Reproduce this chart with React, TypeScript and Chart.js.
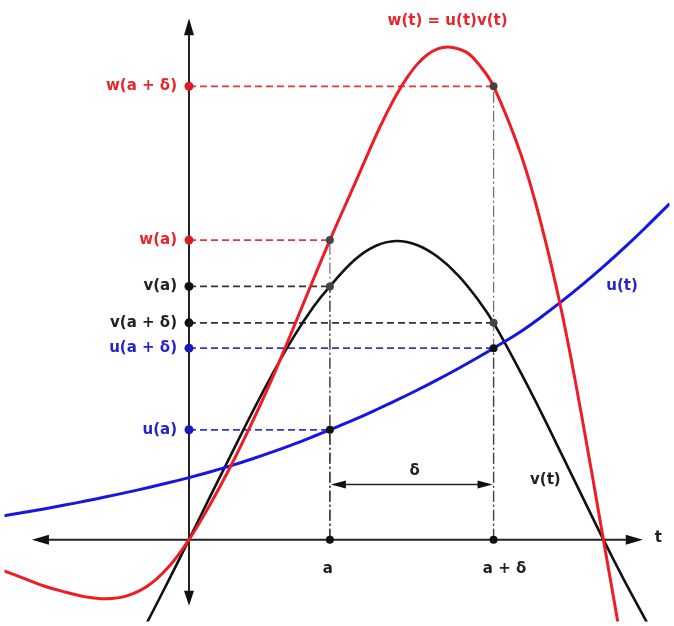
import React, { useEffect, useRef } from "react";
import { Chart, registerables } from "chart.js";

Chart.register(...registerables);

// Sample points of u(t)
const uT = [-4.5, -4, -3.5, -3, -2.5, -2, -1.5, -1, -0.5, 0, 0.5, 1, 1.5, 2, 2.5, 3, 3.4, 4, 4.5, 5, 5.5, 6, 6.5, 7, 7.35, 8, 8.5, 9, 9.5, 10, 10.5, 11, 11.6];
const uValues = [0.24, 0.275, 0.312, 0.351, 0.392, 0.435, 0.48, 0.527, 0.577, 0.63, 0.687, 0.749, 0.816, 0.888, 0.965, 1.047, 1.115, 1.22, 1.315, 1.413, 1.516, 1.624, 1.737, 1.856, 1.943, 2.11, 2.26, 2.42, 2.59, 2.77, 2.96, 3.16, 3.41];

// Sample points of v(t)
const vT = [-1.5, -1, -0.5, 0, 0.5, 1, 1.5, 2, 2.5, 3, 3.4, 4, 4.5, 5, 5.5, 6, 6.5, 7, 7.35, 8, 8.5, 9, 9.5, 10, 10.5, 11, 11.6];
const vValues = [-1.22, -0.83, -0.42, 0, 0.43, 0.85, 1.27, 1.67, 2.04, 2.36, 2.57, 2.84, 2.98, 3.03, 2.99, 2.87, 2.68, 2.42, 2.2, 1.7, 1.29, 0.86, 0.43, 0, -0.41, -0.8, -1.27];

// Sample points of w(t) = u(t)v(t)
const wT = [-4.5, -4, -3.5, -3, -2.5, -2, -1.5, -1, -0.5, 0, 0.5, 1, 1.5, 2, 2.5, 3, 3.4, 4, 4.5, 4.75, 5, 5.25, 5.5, 5.75, 6, 6.25, 6.5, 6.75, 7, 7.35, 8, 8.5, 9, 9.5, 10, 10.5];
const wValues = [-0.31, -0.39, -0.47, -0.53, -0.58, -0.6, -0.57, -0.47, -0.28, 0, 0.35, 0.74, 1.17, 1.63, 2.13, 2.64, 3.04, 3.61, 4.09, 4.31, 4.51, 4.68, 4.82, 4.92, 4.98, 5.0, 4.98, 4.93, 4.82, 4.6, 3.92, 3.2, 2.3, 1.2, 0, -1.2];

const A = 3.4;
const A_PLUS_DELTA = 7.35;

// Visible window in data units
const T_MIN = -4.452;
const T_MAX = 11.595;
const Y_MIN = -0.83;
const Y_MAX = 5.43;

// Extent of the drawn coordinate axes
const T_AXIS = [-3.79, 10.95];
const Y_AXIS = [-0.67, 5.29];
const DELTA_ARROW_Y = 0.56;

const RED = "#ee1c24";
const BLUE = "#1616e0";
const BLACK = "#111111";
const RED_TEXT = "#e8252b";
const BLUE_TEXT = "#2626c4";
const BLACK_TEXT = "#222222";

const valueAt = (ts: number[], vs: number[], t: number) => vs[ts.indexOf(t)];

const uA = valueAt(uT, uValues, A);
const uAD = valueAt(uT, uValues, A_PLUS_DELTA);
const vA = valueAt(vT, vValues, A);
const vAD = valueAt(vT, vValues, A_PLUS_DELTA);
const wA = valueAt(wT, wValues, A);
const wAD = valueAt(wT, wValues, A_PLUS_DELTA);

// Labels beside the vertical axis
const yAxisLabels = [
  { text: "w(a + δ)", value: wAD, color: RED_TEXT },
  { text: "w(a)", value: wA, color: RED_TEXT },
  { text: "v(a)", value: vA, color: BLACK_TEXT },
  { text: "v(a + δ)", value: vAD, color: BLACK_TEXT },
  { text: "u(a + δ)", value: uAD, color: BLUE_TEXT },
  { text: "u(a)", value: uA, color: BLUE_TEXT },
];

const FONT = 'bold 15px "DejaVu Sans"';

const pts = (ts: number[], vs: number[]) => ts.map((t, i) => ({ x: t, y: vs[i] }));

function arrowHead(ctx: CanvasRenderingContext2D, tx: number, ty: number, dx: number, dy: number, len: number, half: number) {
  const bx = tx - dx * len;
  const by = ty - dy * len;
  const nx = -dy;
  const ny = dx;
  ctx.beginPath();
  ctx.moveTo(tx, ty);
  ctx.lineTo(bx + nx * half, by + ny * half);
  ctx.lineTo(bx - nx * half, by - ny * half);
  ctx.closePath();
  ctx.fill();
}

const diagram = {
  id: "diagram",
  beforeDatasetsDraw(chart: any) {
    const { ctx, scales } = chart;
    const px = (t: number) => scales.x.getPixelForValue(t);
    const py = (v: number) => scales.y.getPixelForValue(v);
    ctx.save();
    ctx.strokeStyle = "#222";
    ctx.fillStyle = "#111";
    ctx.lineWidth = 2;
    // horizontal axis
    const x0 = px(T_AXIS[0]);
    const x1 = px(T_AXIS[1]);
    const y0 = py(0);
    ctx.beginPath();
    ctx.moveTo(x0 + 4, y0);
    ctx.lineTo(x1 - 4, y0);
    ctx.stroke();
    arrowHead(ctx, x0, y0, -1, 0, 17, 5);
    arrowHead(ctx, x1, y0, 1, 0, 17, 5);
    // vertical axis
    const ax = px(0);
    const yb = py(Y_AXIS[0]);
    const yt = py(Y_AXIS[1]);
    ctx.beginPath();
    ctx.moveTo(ax, yb - 4);
    ctx.lineTo(ax, yt + 4);
    ctx.stroke();
    arrowHead(ctx, ax, yt, 0, -1, 17, 5);
    arrowHead(ctx, ax, yb, 0, 1, 15, 5);
    ctx.restore();
  },
  afterDatasetsDraw(chart: any) {
    const { ctx, scales } = chart;
    const px = (t: number) => scales.x.getPixelForValue(t);
    const py = (v: number) => scales.y.getPixelForValue(v);
    ctx.save();

    // δ dimension arrow
    const ya = py(DELTA_ARROW_Y);
    const xa = px(A);
    const xb = px(A_PLUS_DELTA);
    ctx.strokeStyle = "#222";
    ctx.fillStyle = "#111";
    ctx.lineWidth = 1.5;
    ctx.beginPath();
    ctx.moveTo(xa + 6, ya);
    ctx.lineTo(xb - 6, ya);
    ctx.stroke();
    arrowHead(ctx, xa + 1, ya, -1, 0, 15, 4);
    arrowHead(ctx, xb - 1, ya, 1, 0, 15, 4);

    ctx.font = FONT;
    ctx.textBaseline = "middle";

    // labels next to the vertical axis
    ctx.textAlign = "right";
    for (const l of yAxisLabels) {
      ctx.fillStyle = l.color;
      ctx.fillText(l.text, px(0) - 12, py(l.value));
    }

    ctx.textAlign = "center";
    ctx.fillStyle = BLACK_TEXT;
    ctx.fillText("a", px(A) - 2, py(0) + 29);
    ctx.fillText("a + δ", px(A_PLUS_DELTA) + 11, py(0) + 29);
    ctx.fillText("δ", (xa + xb) / 2 + 3, ya - 13);
    ctx.fillText("v(t)", px(8.6), py(0.6));
    ctx.textAlign = "left";
    ctx.fillText("t", px(T_AXIS[1]) + 12, py(0) - 2);

    ctx.textAlign = "center";
    ctx.fillStyle = BLUE_TEXT;
    ctx.fillText("u(t)", px(10.45), py(2.57));
    ctx.fillStyle = RED_TEXT;
    ctx.fillText("w(t) = u(t)v(t)", px(6.24), py(5.26));

    ctx.restore();
  },
};

function hGuide(value: number, tEnd: number, color: string) {
  return {
    type: "line" as const,
    data: [{ x: 0, y: value }, { x: tEnd, y: value }],
    borderColor: color,
    borderWidth: 1.8,
    borderDash: [7, 4],
    pointRadius: 0,
    order: 20,
  };
}

function vGuide(t: number, value: number) {
  return {
    type: "line" as const,
    data: [{ x: t, y: 0 }, { x: t, y: value }],
    borderColor: "rgba(40,40,40,0.65)",
    borderWidth: 1.3,
    borderDash: [11, 3, 2, 3],
    pointRadius: 0,
    order: 21,
  };
}

function dots(points: { x: number; y: number }[], color: string, radius = 4) {
  return {
    type: "line" as const,
    data: points,
    showLine: false,
    pointRadius: radius,
    pointBackgroundColor: color,
    pointBorderColor: color,
    pointBorderWidth: 0,
    order: 0,
  };
}

function curve(ts: number[], vs: number[], color: string, width: number, order: number) {
  return {
    type: "line" as const,
    data: pts(ts, vs),
    borderColor: color,
    borderWidth: width,
    pointRadius: 0,
    tension: 0.4,
    order,
  };
}

export default function App() {
  const ref = useRef<HTMLCanvasElement>(null);

  useEffect(() => {
    const chart = new Chart(ref.current as HTMLCanvasElement, {
      type: "line",
      data: {
        datasets: [
          curve(wT, wValues, RED, 3, 2),
          curve(uT, uValues, BLUE, 3, 3),
          curve(vT, vValues, BLACK, 2.6, 4),
          hGuide(wAD, A_PLUS_DELTA, "#e8353b"),
          hGuide(wA, A, "#e8353b"),
          hGuide(vA, A, "#333"),
          hGuide(vAD, A_PLUS_DELTA, "#333"),
          hGuide(uAD, A_PLUS_DELTA, "#3434d4"),
          hGuide(uA, A, "#3434d4"),
          vGuide(A, wA),
          vGuide(A, vA),
          vGuide(A, uA),
          vGuide(A_PLUS_DELTA, wAD),
          vGuide(A_PLUS_DELTA, uAD),
          dots([{ x: 0, y: wAD }, { x: 0, y: wA }], "#d81e24", 4.5),
          dots([{ x: 0, y: vA }, { x: 0, y: vAD }], "#111", 4.5),
          dots([{ x: 0, y: uAD }, { x: 0, y: uA }], "#1a1ab8", 4.5),
          dots(
            [
              { x: A, y: wA },
              { x: A, y: vA },
              { x: A_PLUS_DELTA, y: wAD },
              { x: A_PLUS_DELTA, y: vAD },
            ],
            "#444"
          ),
          dots(
            [
              { x: A, y: uA },
              { x: A_PLUS_DELTA, y: uAD },
              { x: A, y: 0 },
              { x: A_PLUS_DELTA, y: 0 },
            ],
            "#111"
          ),
        ] as any,
      },
      options: {
        responsive: false,
        animation: false,
        devicePixelRatio: 1,
        events: [],
        layout: { padding: 0 },
        plugins: {
          legend: { display: false },
          tooltip: { enabled: false },
        },
        scales: {
          x: { type: "linear", min: T_MIN, max: T_MAX, display: false },
          y: { type: "linear", min: Y_MIN, max: Y_MAX, display: false },
        },
      },
      plugins: [diagram],
    });
    return () => chart.destroy();
  }, []);

  return (
    <div style={{ position: "absolute", left: 0, top: 0, width: 674, height: 626, background: "#fff" }}>
      <canvas ref={ref} width={674} height={626} style={{ display: "block" }} />
    </div>
  );
}
